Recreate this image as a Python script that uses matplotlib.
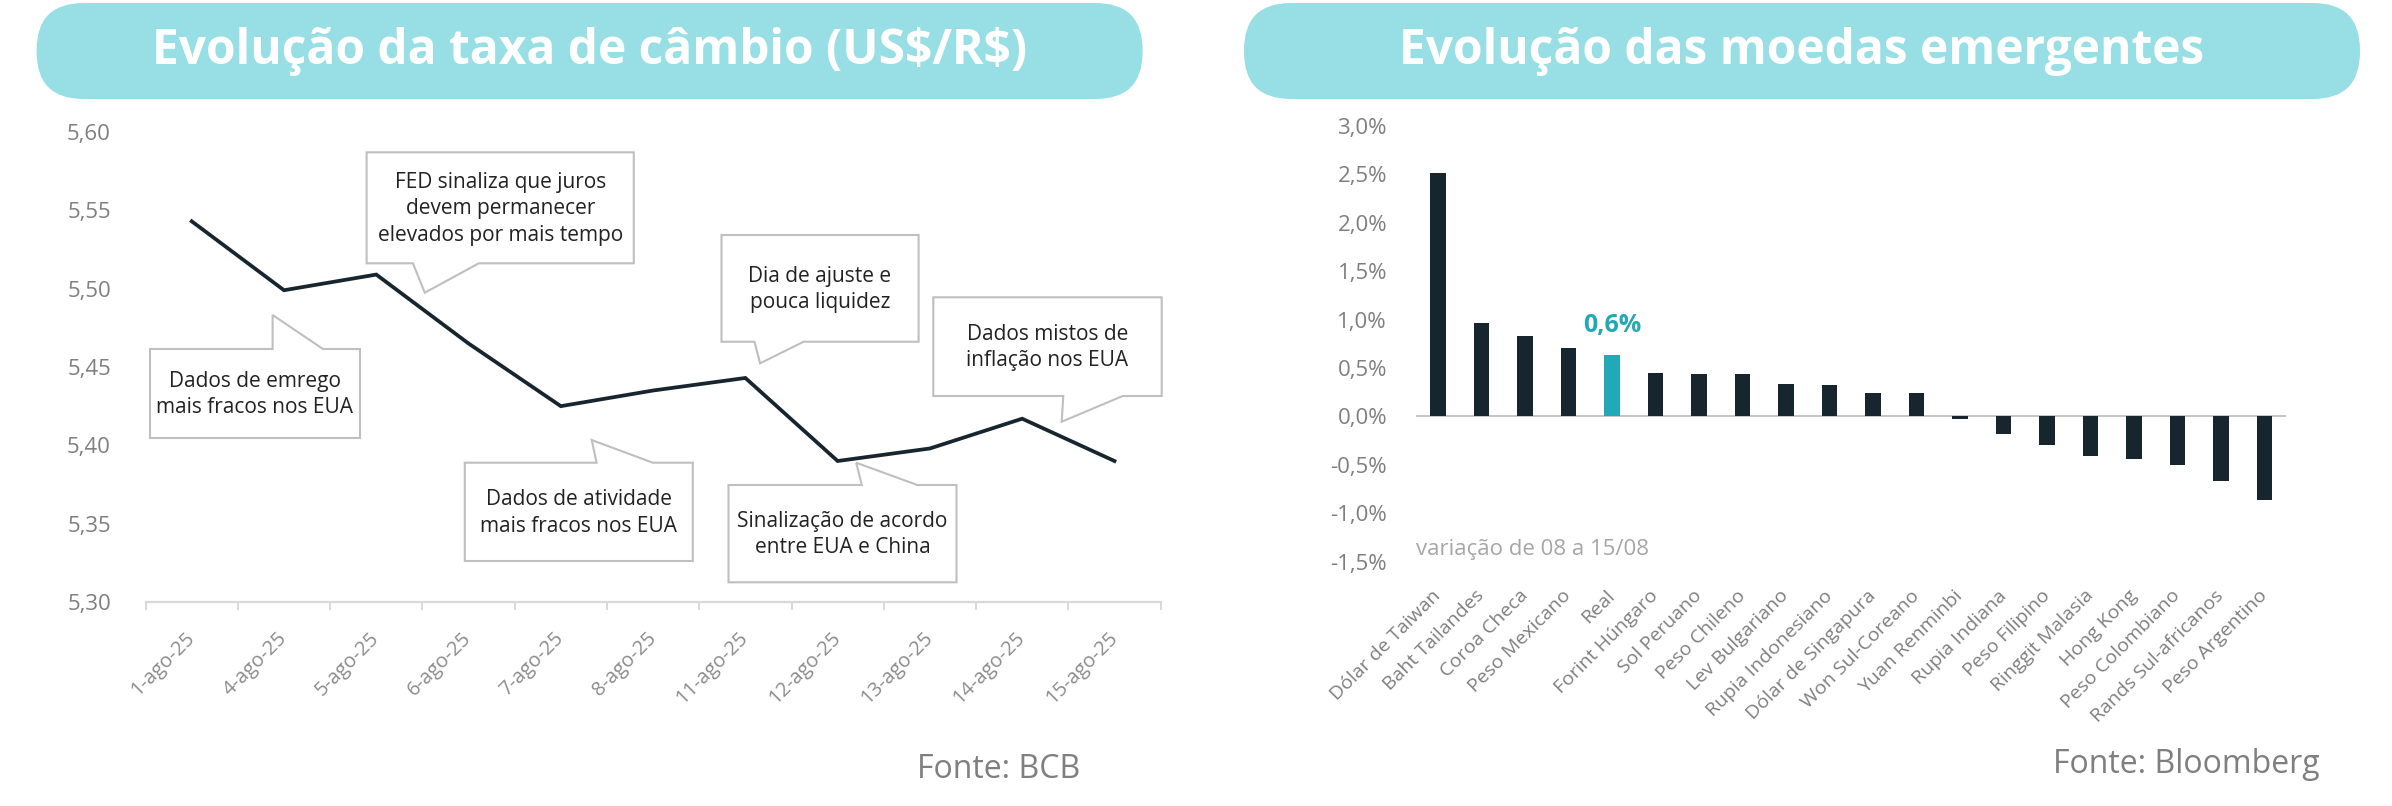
import matplotlib
matplotlib.use('Agg')
import matplotlib.pyplot as plt
import matplotlib.patches as mpatches
import matplotlib.transforms as mtransforms
from matplotlib.ticker import FuncFormatter
import numpy as np

# ------------------------------------------------------------
# Dados
# ------------------------------------------------------------
DATAS = ['1-ago-25', '4-ago-25', '5-ago-25', '6-ago-25', '7-ago-25', '8-ago-25',
         '11-ago-25', '12-ago-25', '13-ago-25', '14-ago-25', '15-ago-25']
CAMBIO = [5.543, 5.499, 5.509, 5.465, 5.425, 5.435, 5.443, 5.390, 5.398, 5.417, 5.390]

MOEDAS = ['Dólar de Taiwan', 'Baht Tailandes', 'Coroa Checa', 'Peso Mexicano', 'Real',
          'Forint Húngaro', 'Sol Peruano', 'Peso Chileno', 'Lev Bulgariano',
          'Rupia Indonesiano', 'Dólar de Singapura', 'Won Sul-Coreano', 'Yuan Renminbi',
          'Rupia Indiana', 'Peso Filipino', 'Ringgit Malasia', 'Hong Kong',
          'Peso Colombiano', 'Rands Sul-africanos', 'Peso Argentino']
VARIACAO = [2.51, 0.97, 0.83, 0.71, 0.64, 0.45, 0.44, 0.44, 0.34, 0.33, 0.24, 0.24,
            -0.03, -0.18, -0.29, -0.41, -0.44, -0.50, -0.67, -0.86]
DESTAQUE = 'Real'

TITULO_ESQ = 'Evolução da taxa de câmbio (US$/R$)'
TITULO_DIR = 'Evolução das moedas emergentes'

# ------------------------------------------------------------
# Estilo / layout (pixels da figura)
# ------------------------------------------------------------
W, H, DPI = 2392, 806, 100
FONT = 'Open Sans'
C_BANNER = '#98DFE5'
C_LINE = '#16252E'
C_BAR = '#16252E'
C_REAL = '#21A9B8'
C_TICK = '#7F7F7F'
C_AXIS = '#D9D9D9'
C_BOX = '#BFBFBF'
C_TXT = '#222222'

plt.rcParams['font.family'] = [FONT, 'DejaVu Sans']
plt.rcParams['text.parse_math'] = False

# caixas de comentario: texto, (x0, y0, x1, y1), lado do bico, (base1, base2, ponta_x, ponta_y)
CALLOUTS = [
    ('Dados de emrego\nmais fracos nos EUA', (150, 349, 360, 438), 'top', (272.6, 323, 272.6, 315)),
    ('FED sinaliza que juros\ndevem permanecer\nelevados por mais tempo', (366.6, 152.3, 633.8, 263.3),
     'bottom', (412.9, 478.8, 424.8, 292.7)),
    ('Dia de ajuste e\npouca liquidez', (721.5, 235, 918.6, 341.7), 'bottom', (754.5, 803.6, 760.1, 363.3)),
    ('Dados mistos de\ninflação nos EUA', (933.3, 297.3, 1161.7, 396), 'bottom', (1063.3, 1122.7, 1061.7, 421.7)),
    ('Dados de atividade\nmais fracos nos EUA', (464.8, 462.7, 692.8, 561), 'top', (596.6, 652.8, 591.7, 440)),
    ('Sinalização de acordo\nentre EUA e China', (728.5, 485, 956.5, 582.3), 'top', (861.8, 917.3, 856.2, 462.7)),
]


def px_rect(x0, y0, x1, y1):
    return [x0 / W, 1 - y1 / H, (x1 - x0) / W, (y1 - y0) / H]


fig = plt.figure(figsize=(W / DPI, H / DPI), dpi=DPI)
fig.patch.set_facecolor('white')

# camada de fundo em pixels (banners, caixas, fontes)
bg = fig.add_axes([0, 0, 1, 1], zorder=0)
bg.set_xlim(0, W)
bg.set_ylim(H, 0)
bg.axis('off')
bg.patch.set_alpha(0)

for (x0, x1), titulo in [((36.6, 1142.6), TITULO_ESQ), ((1244, 2360), TITULO_DIR)]:
    bg.add_patch(mpatches.FancyBboxPatch((x0, 3), x1 - x0, 96,
                                         boxstyle='round,pad=0,rounding_size=47',
                                         facecolor=C_BANNER, edgecolor='none'))
    bg.text((x0 + x1) / 2, 51, titulo, ha='center', va='center', color='white',
            fontsize=34.5, fontweight='bold')

for txt, (x0, y0, x1, y1), side, (b1, b2, tx, ty) in CALLOUTS:
    if side == 'top':
        pts = [(x0, y0), (b1, y0), (tx, ty), (b2, y0), (x1, y0), (x1, y1), (x0, y1)]
    else:
        pts = [(x0, y0), (x1, y0), (x1, y1), (b2, y1), (tx, ty), (b1, y1), (x0, y1)]
    bg.add_patch(mpatches.Polygon(pts, closed=True, facecolor='white',
                                  edgecolor=C_BOX, lw=1.5, zorder=3))
    bg.text((x0 + x1) / 2, (y0 + y1) / 2 + 1, txt, ha='center', va='center',
            fontsize=15, color=C_TXT, linespacing=1.35, zorder=4)

bg.text(1080.7, 778, 'Fonte: BCB', ha='right', va='baseline', fontsize=23, color=C_TICK)
bg.text(2320, 773, 'Fonte: Bloomberg', ha='right', va='baseline', fontsize=23, color=C_TICK)

# ------------------------------------------------------------
# Grafico 1: taxa de cambio
# ------------------------------------------------------------
ax1 = fig.add_axes(px_rect(145.6, 132, 1160.6, 602), zorder=2)
ax1.patch.set_alpha(0)
x = np.arange(len(DATAS))
ax1.plot(x, CAMBIO, color=C_LINE, lw=2.7, solid_joinstyle='miter', zorder=2)
ax1.set_xlim(-0.5, len(DATAS) - 0.5)
ax1.set_ylim(5.30, 5.60)
ax1.set_yticks(np.arange(5.30, 5.601, 0.05))
ax1.yaxis.set_major_formatter(FuncFormatter(lambda v, p: f'{v:.2f}'.replace('.', ',')))
ax1.set_xticks(x)
ax1.set_xticklabels(DATAS)
ax1.set_xticks(np.arange(-0.5, len(DATAS)), minor=True)
for s in ['top', 'right', 'left']:
    ax1.spines[s].set_visible(False)
ax1.spines['bottom'].set_color(C_AXIS)
ax1.spines['bottom'].set_linewidth(1.6)
ax1.tick_params(axis='y', length=0, pad=25, labelsize=16, labelcolor=C_TICK)
ax1.tick_params(axis='x', which='major', length=0, pad=24, labelsize=14.5, labelcolor='#8C8C8C')
ax1.tick_params(axis='x', which='minor', length=6, width=1.4, color=C_AXIS, direction='out')
for lb in ax1.get_xticklabels():
    lb.set_rotation(45)
    lb.set_ha('right')
    lb.set_va('center')
    lb.set_rotation_mode('anchor')

# ------------------------------------------------------------
# Grafico 2: moedas emergentes
# ------------------------------------------------------------
ax2 = fig.add_axes(px_rect(1416.2, 126, 2286.2, 561.7), zorder=2)
ax2.patch.set_alpha(0)
xb = np.arange(len(MOEDAS))
cores = [C_REAL if m == DESTAQUE else C_BAR for m in MOEDAS]
ax2.bar(xb, VARIACAO, width=0.35, color=cores, zorder=2)
ax2.axhline(0, color=C_BOX, lw=1.3, zorder=1)
ax2.set_xlim(-0.5, len(MOEDAS) - 0.5)
ax2.set_ylim(-1.5, 3.0)
ax2.set_yticks(np.arange(-1.5, 3.01, 0.5))
ax2.yaxis.set_major_formatter(FuncFormatter(lambda v, p: f'{v:.1f}%'.replace('.', ',')))
ax2.set_xticks([])
for s in ax2.spines.values():
    s.set_visible(False)
ax2.tick_params(axis='y', length=0, pad=21, labelsize=16, labelcolor=C_TICK)

trans = mtransforms.blended_transform_factory(ax2.transData, bg.transData)
for i, nome in enumerate(MOEDAS):
    ax2.text(i, 593, nome, transform=trans, rotation=45, ha='right', va='center',
             rotation_mode='anchor', fontsize=14, color=C_TICK)

i_real = MOEDAS.index(DESTAQUE)
v_real = VARIACAO[i_real]
ax2.annotate(f'{v_real:.1f}%'.replace('.', ','), xy=(i_real, v_real), xytext=(0, 12),
             textcoords='offset points', ha='center', va='bottom',
             fontsize=18, fontweight='bold', color=C_REAL)

ax2.text(-0.5, -1.37, 'variação de 08 a 15/08', ha='left', va='center',
         fontsize=16, color='#A6A6A6')

fig.savefig('out.png', dpi=DPI, facecolor='white')
